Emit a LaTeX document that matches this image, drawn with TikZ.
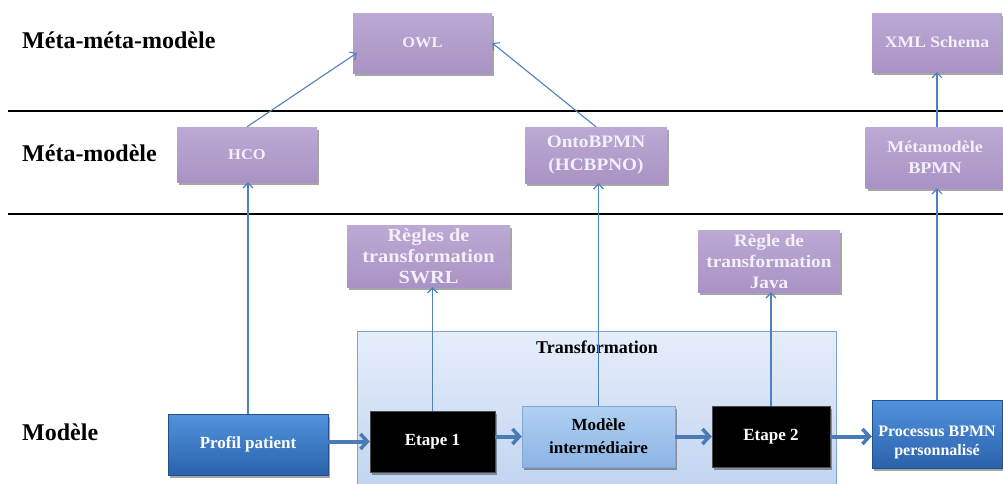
\documentclass[tikz,border=0pt]{standalone}
\usepackage{fontspec}
\setmainfont{Liberation Serif}
\newfontfamily\boxfont[FakeStretch=1.1]{Liberation Serif}
\usetikzlibrary{arrows.meta,shadows,calc}
\definecolor{lineblue}{HTML}{4F81BD}
\definecolor{purptop}{HTML}{BCA9D4}
\definecolor{purpbot}{HTML}{A993C4}
\definecolor{purptext}{HTML}{F4EFF9}
\definecolor{conttop}{HTML}{E6EEFB}
\definecolor{contbot}{HTML}{BFD2F0}
\definecolor{contdraw}{HTML}{7FA3D6}
\definecolor{bluetop}{HTML}{5293DE}
\definecolor{bluebot}{HTML}{2A62AB}
\definecolor{lbtop}{HTML}{B0D0F2}
\definecolor{lbbot}{HTML}{8CB4E4}
\tikzset{
  shadowed/.style={drop shadow={shadow xshift=2pt,shadow yshift=-2.5pt,opacity=0.35,fill=black}},
  purplebox/.style={shadowed,rectangle,top color=purptop,bottom color=purpbot,draw=none,
    text=purptext,font=\boxfont\bfseries,align=center,inner sep=1pt},
  bluebox/.style={shadowed,rectangle,top color=bluetop,bottom color=bluebot,draw=bluebot!80!black,
    text=white,font=\bfseries\fontsize{17}{20}\selectfont,align=center,inner sep=1pt},
  blackbox/.style={shadowed,rectangle,fill=black,draw=black!70,
    text=white,font=\bfseries\fontsize{17}{20}\selectfont,align=center,inner sep=1pt},
  lightbox/.style={shadowed,rectangle,top color=lbtop,bottom color=lbbot,draw=lineblue!70,
    text=black,font=\bfseries\fontsize{17}{23}\selectfont,align=center,inner sep=1pt},
  heading/.style={anchor=west,inner sep=0pt,font=\bfseries\fontsize{24}{28}\selectfont},
  thin/.style={draw=lineblue,line width=1.1pt,-{Straight Barb[length=5pt,width=10pt]}},
  thick/.style={draw=lineblue!95!black,line width=4pt,-{Straight Barb[length=7pt,width=15pt,line width=3.5pt]}},
}
\begin{document}
\begin{tikzpicture}[x=1pt,y=-1pt]
\useasboundingbox (0,0) rectangle (1003,483);
\fill[white] (0,0) rectangle (1003,483);

% level separators
\draw[line width=1.6pt] (8,111) -- (1003,111);
\draw[line width=1.6pt] (8,214) -- (1003,214);

% headings
\node[heading] (h1) at (22,40) {Méta-méta-modèle};
\node[heading] (h2) at (22,153) {Méta-modèle};
\node[heading] (h3) at (22,432) {Modèle};

% transformation container
\node[rectangle,top color=conttop,bottom color=contbot,draw=contdraw,line width=0.8pt,
  minimum width=479pt,minimum height=170pt,inner sep=0pt] (trans) at (596.5,416) {};
\node[font=\bfseries\fontsize{18}{20}\selectfont,inner sep=0pt] (translab) at (597,347) {Transformation};

% top level
\node[purplebox,minimum width=139pt,minimum height=60pt,font=\boxfont\bfseries\fontsize{15}{18}\selectfont] (owl) at (422.5,43) {OWL};
\node[purplebox,minimum width=130pt,minimum height=59pt,font=\boxfont\bfseries\fontsize{16}{18}\selectfont] (xml) at (937,42.5) {XML Schema};

% meta level
\node[purplebox,minimum width=140pt,minimum height=55pt,font=\boxfont\bfseries\fontsize{15}{18}\selectfont] (hco) at (247,154.5) {HCO};
\node[purplebox,minimum width=142pt,minimum height=56pt,font=\boxfont\bfseries\fontsize{17.5}{23}\selectfont] (onto) at (596,155) {OntoBPMN\\(HCBPNO)};
\node[purplebox,minimum width=139pt,minimum height=61pt,font=\boxfont\bfseries\fontsize{16.5}{21}\selectfont] (meta) at (935,157.5) {Métamodèle\\BPMN};

% rule boxes
\node[purplebox,minimum width=163pt,minimum height=62pt,font=\boxfont\bfseries\fontsize{18.5}{21}\selectfont] (swrl) at (428.5,256) {Règles de\\transformation\\SWRL};
\node[purplebox,minimum width=142pt,minimum height=62pt,font=\boxfont\bfseries\fontsize{17.5}{21}\selectfont] (java) at (769,261) {Règle de\\transformation\\Java};

% model level
\node[bluebox,minimum width=160pt,minimum height=61pt] (prof) at (248,444.5) {Profil patient};
\node[blackbox,minimum width=125pt,minimum height=61pt] (e1) at (432.5,441.5) {Etape 1};
\node[lightbox,minimum width=153pt,minimum height=61pt] (mi) at (598.5,436.5) {Modèle\\intermédiaire};
\node[blackbox,minimum width=118pt,minimum height=61pt] (e2) at (771,436.5) {Etape 2};
\node[bluebox,minimum width=130pt,minimum height=68pt,font=\bfseries\fontsize{16}{19}\selectfont] (proc) at (937,434) {\rule{0pt}{27pt}Processus BPMN\\personnalisé};

% thick flow arrows
\draw[thick] (prof.east |- e1.west) -- (e1.west);
\draw[thick] (e1.east |- mi.west) -- (mi.west);
\draw[thick] (mi.east) -- (e2.west);
\draw[thick] (e2.east) -- (e2.east -| proc.west);

% conformance arrows
\draw[thin] (prof.north) -- (prof.north |- hco.south);
\draw[thin] (e1.north) -- (e1.north |- swrl.south);
\draw[thin] (mi.north) -- (mi.north |- onto.south);
\draw[thin] (e2.north) -- (e2.north |- java.south);
\draw[thin] (proc.north) -- (proc.north |- meta.south);
\draw[thin] (meta.north -| xml.south) -- (xml.south);
\draw[thin] (hco.north) -- ([xshift=4pt,yshift=-10pt]owl.west);
\draw[thin] (onto.north) -- (owl.east);
\end{tikzpicture}
\end{document}
